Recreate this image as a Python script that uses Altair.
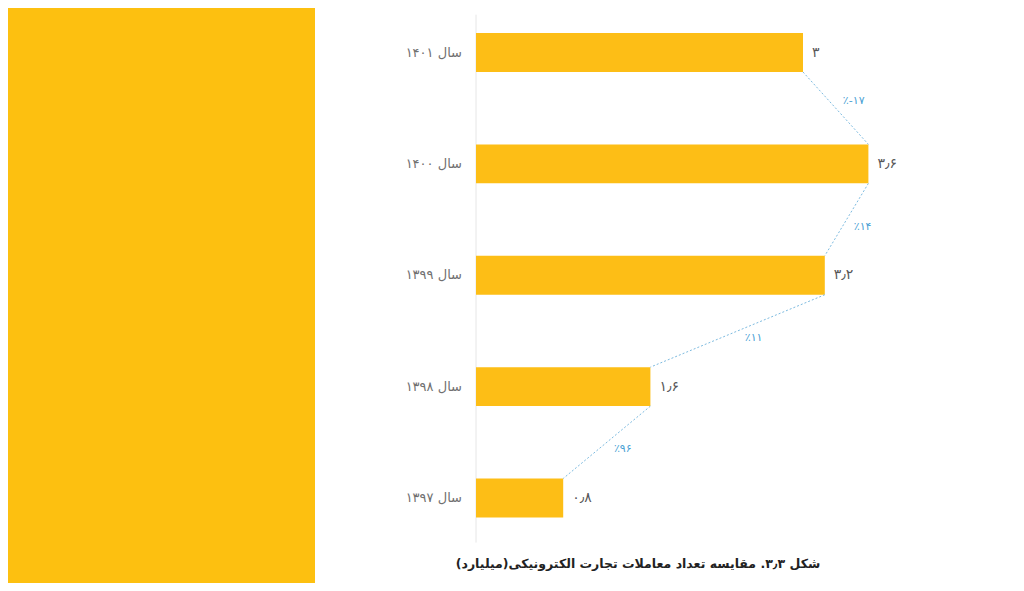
import altair as alt
import pandas as pd

# ---- data (top to bottom) ----
years = [1401, 1400, 1399, 1398, 1397]
values = [3.0, 3.6, 3.2, 1.6, 0.8]
pct_changes = [-17, 14, 11, 96]  # change between consecutive rows (upper vs lower)
caption = "شکل ۳٫۳. مقایسه تعداد معاملات تجارت الکترونیکی(میلیارد)\u200f"

FA = str.maketrans("0123456789.", "۰۱۲۳۴۵۶۷۸۹٫")


def fa(x):
    s = ("%g" % x)
    return s.translate(FA)


HALF = 0.175  # half bar thickness in row units

bars = pd.DataFrame({
    "year": years,
    "value": values,
    "idx": list(range(len(years))),
})
bars["zero"] = 0.0
bars["lo"] = bars["idx"] - HALF
bars["hi"] = bars["idx"] + HALF
bars["year_label"] = ["سال " + fa(y) for y in years]
bars["value_label"] = [fa(v) for v in values]

conn = pd.DataFrame({
    "x1": values[:-1],
    "x2": values[1:],
    "y1": [i + HALF for i in range(len(years) - 1)],
    "y2": [i + 1 - HALF for i in range(len(years) - 1)],
    "pct": ["٪" + ("-" if p < 0 else "") + fa(abs(p)) for p in pct_changes],
})
conn["xm"] = (conn["x1"] + conn["x2"]) / 2
conn["ym"] = (conn["y1"] + conn["y2"]) / 2
conn["rising"] = conn["x2"] > conn["x1"]

axis_df = pd.DataFrame({"x": [0.0], "y1": [-0.34], "y2": [4.4]})

W, H = 1008, 575
xs = alt.Scale(domain=[0, 4], range=[468, 904], nice=False, zero=False)
ys = alt.Scale(domain=[0, 4], range=[44.5, 490], nice=False, zero=False)

panel = alt.Chart(pd.DataFrame({"a": [0]})).mark_rect(color="#FDC010").encode(
    x=alt.value(0), x2=alt.value(307), y=alt.value(0), y2=alt.value(H)
)

axis_line = alt.Chart(axis_df).mark_rule(color="#e6e6e6", strokeWidth=1).encode(
    x=alt.X("x:Q", scale=xs, axis=None),
    y=alt.Y("y1:Q", scale=ys, axis=None),
    y2="y2:Q",
)

bar_layer = alt.Chart(bars).mark_rect(color="#FDBE16").encode(
    x=alt.X("zero:Q", scale=xs, axis=None),
    x2="value:Q",
    y=alt.Y("lo:Q", scale=ys, axis=None),
    y2="hi:Q",
)

year_text = alt.Chart(bars).mark_text(
    align="right", baseline="middle", dx=-14, fontSize=13, color="#707070", font="DejaVu Sans"
).encode(
    x=alt.X("zero:Q", scale=xs, axis=None),
    y=alt.Y("idx:Q", scale=ys, axis=None),
    text="year_label:N",
)

value_text = alt.Chart(bars).mark_text(
    align="left", baseline="middle", dx=9, fontSize=14, color="#585858", font="DejaVu Sans"
).encode(
    x=alt.X("value:Q", scale=xs, axis=None),
    y=alt.Y("idx:Q", scale=ys, axis=None),
    text="value_label:N",
)

conn_layer = alt.Chart(conn).mark_rule(color="#7DBBE0", strokeWidth=1, strokeDash=[2, 2]).encode(
    x=alt.X("x1:Q", scale=xs, axis=None),
    x2="x2:Q",
    y=alt.Y("y1:Q", scale=ys, axis=None),
    y2="y2:Q",
)

pct_base = alt.Chart(conn).encode(
    x=alt.X("xm:Q", scale=xs, axis=None),
    y=alt.Y("ym:Q", scale=ys, axis=None),
    text="pct:N",
)
pct_style = dict(align="center", baseline="middle", fontSize=11, color="#4A9FD4", font="DejaVu Sans")
pct_up = pct_base.transform_filter("datum.rising").mark_text(dx=18, dy=-7, **pct_style)
pct_down = pct_base.transform_filter("!datum.rising").mark_text(dx=16, dy=7, **pct_style)

cap = alt.Chart(pd.DataFrame({"t": [caption]})).mark_text(
    align="center", baseline="middle", fontSize=12.5, fontWeight="bold", color="#222222", font="DejaVu Sans"
).encode(
    x=alt.value(630), y=alt.value(556), text="t:N"
)

chart = alt.layer(
    panel, axis_line, bar_layer, conn_layer, year_text, value_text, pct_up, pct_down, cap
).properties(
    width=W, height=H, padding=0, autosize=alt.AutoSizeParams(type="none")
).configure_view(stroke=None)

chart.save("out.html", embed_options={"renderer": "svg", "actions": False})
